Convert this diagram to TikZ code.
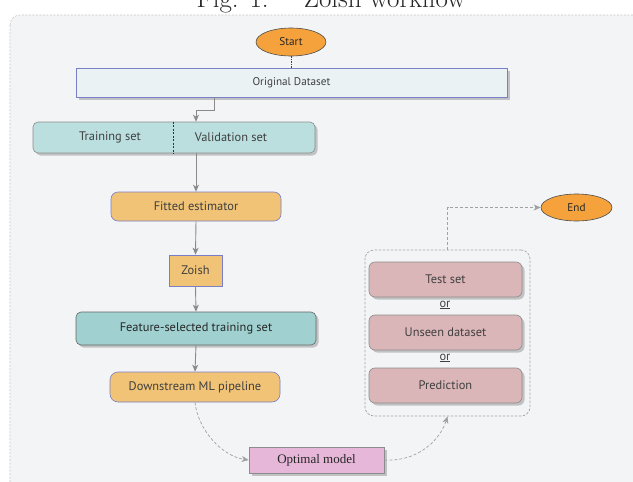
\documentclass[tikz,border=0pt]{standalone}
\usepackage{fontspec}
\setsansfont{PT Sans}
\newfontfamily\optfont{Liberation Serif}
\usetikzlibrary{shapes.geometric,shadows,arrows.meta}
\definecolor{bgc}{HTML}{F3F4F6}
\definecolor{orangec}{HTML}{F5A23C}
\definecolor{yel}{HTML}{F0C376}
\definecolor{bluebd}{HTML}{7A7EC6}
\definecolor{origc}{HTML}{EAF2F4}
\definecolor{trainc}{HTML}{BBDEDE}
\definecolor{featc}{HTML}{A0D0D0}
\definecolor{pinkc}{HTML}{DBB6B8}
\definecolor{optc}{HTML}{E6B7D8}
\definecolor{txt}{HTML}{3F3F3F}
\definecolor{conc}{HTML}{8A8A8A}
\definecolor{graybd}{HTML}{8C8C8C}
\begin{document}
\begin{tikzpicture}[x=1pt,y=-1pt,
  lbl/.style={font=\sffamily\fontsize{12.4}{14}\selectfont, text=txt},
  shad/.style={drop shadow={shadow xshift=2.5pt, shadow yshift=-2.5pt, opacity=0.35, fill=black!60}},
  boxnode/.style={lbl, rectangle, inner sep=0pt, line width=0.6pt},
  conn/.style={draw=conc, line width=0.9pt, -{Stealth[length=7pt,width=6pt,inset=2pt]}},
  dconn/.style={draw=conc!80, line width=0.7pt, dash pattern=on 3pt off 2pt, -{Stealth[length=7pt,width=6pt,inset=2pt]}},
  oval/.style={ellipse, draw=black!70, line width=0.6pt, fill=orangec, inner sep=0pt, font=\sffamily\fontsize{11.2}{13}\selectfont, text=black!85},
  ortext/.style={font=\sffamily\fontsize{12.4}{14}\selectfont, text=txt, inner sep=0pt}
]
\useasboundingbox (0,0) rectangle (633,482);
% background
\draw[draw=black!22, fill=bgc, dash pattern=on 2pt off 1.5pt, line width=0.6pt, rounded corners=10pt] (10,15) rectangle (660,500);
% caption (cut off at top, as in the reference)
\node[anchor=base, font=\fontsize{27}{30}\selectfont, text=black!85, inner sep=0pt] (cap) at (331,7) {Fig. 1.\hspace{1.3em}Zoish workflow};

% nodes
\node[oval, minimum width=70pt, minimum height=28pt] (start) at (291,42) {Start};
\node[boxnode, shad, draw=bluebd, fill=origc, minimum width=431pt, minimum height=29pt, font=\sffamily\fontsize{11.2}{13}\selectfont] (orig) at (291.5,82.5) {Original Dataset};
\node[boxnode, shad, draw=graybd, fill=trainc, rounded corners=5pt, minimum width=282pt, minimum height=31pt] (train) at (174,137.5) {};
\node[lbl, inner sep=0pt] (trtxt) at (110,137) {Training set};
\node[lbl, inner sep=0pt] (vatxt) at (231,137) {Validation set};
\node[boxnode, draw=bluebd, fill=yel, rounded corners=7pt, minimum width=170pt, minimum height=29pt] (fit) at (196,206.5) {Fitted estimator};
\node[boxnode, draw=bluebd, fill=yel, minimum width=53pt, minimum height=31pt] (zoish) at (195.5,270.5) {Zoish};
\node[boxnode, shad, draw=black!60, fill=featc, rounded corners=5pt, minimum width=240pt, minimum height=33pt, text=black!85] (feat) at (196,328.5) {Feature-selected training set};
\node[boxnode, draw=bluebd, fill=yel, rounded corners=8pt, minimum width=170pt, minimum height=30pt] (down) at (195,387) {Downstream ML pipeline};
\node[boxnode, shad, draw=graybd, fill=optc, minimum width=135pt, minimum height=26pt, font=\optfont\fontsize{13}{15}\selectfont, text=black!85] (opt) at (316.5,460) {Optimal model};

\node[draw=black!35, dash pattern=on 2.5pt off 1.5pt, line width=0.7pt, rounded corners=9pt, minimum width=165pt, minimum height=166pt, inner sep=0pt] (group) at (447.5,333) {};
\node[boxnode, shad, draw=graybd, fill=pinkc, rounded corners=6pt, minimum width=153pt, minimum height=35pt] (test) at (445.5,279.5) {Test set};
\node[ortext] (or1) at (445,305) {\underline{or}};
\node[boxnode, shad, draw=graybd, fill=pinkc, rounded corners=6pt, minimum width=153pt, minimum height=35pt] (unseen) at (445.5,332.5) {Unseen dataset};
\node[ortext] (or2) at (445,358) {\underline{or}};
\node[boxnode, shad, draw=graybd, fill=pinkc, rounded corners=6pt, minimum width=153pt, minimum height=35pt] (pred) at (445.5,385.5) {Prediction};
\node[oval, minimum width=71pt, minimum height=27pt] (end) at (576.5,207.5) {End};

% divider in train box
\draw[black!80, dash pattern=on 2pt off 1.5pt, line width=0.6pt] ([xshift=-1pt]train.north) -- ([xshift=-1pt]train.south);

% connectors
\draw[black!75, dash pattern=on 1.5pt off 1pt, line width=0.9pt] (start.south) -- (orig.north -| start.south);
\draw[conn] ([xshift=-77.5pt]orig.south) -- ++(0,13) -| ([xshift=22pt]train.north);
\draw[conn] ([xshift=22pt]train.south) -- (fit.north);
\draw[conn] (fit.south) -- (zoish.north);
\draw[conn] (zoish.south) -- (feat.north);
\draw[conn] (feat.south) -- (down.north);
\draw[dconn] (down.south) .. controls (198,430) and (222,456) .. (opt.west);
\draw[dconn] (opt.east) .. controls (418,462) and (440,440) .. (group.south);
\draw[dconn] (group.north) |- (end.west);
\end{tikzpicture}
\end{document}
